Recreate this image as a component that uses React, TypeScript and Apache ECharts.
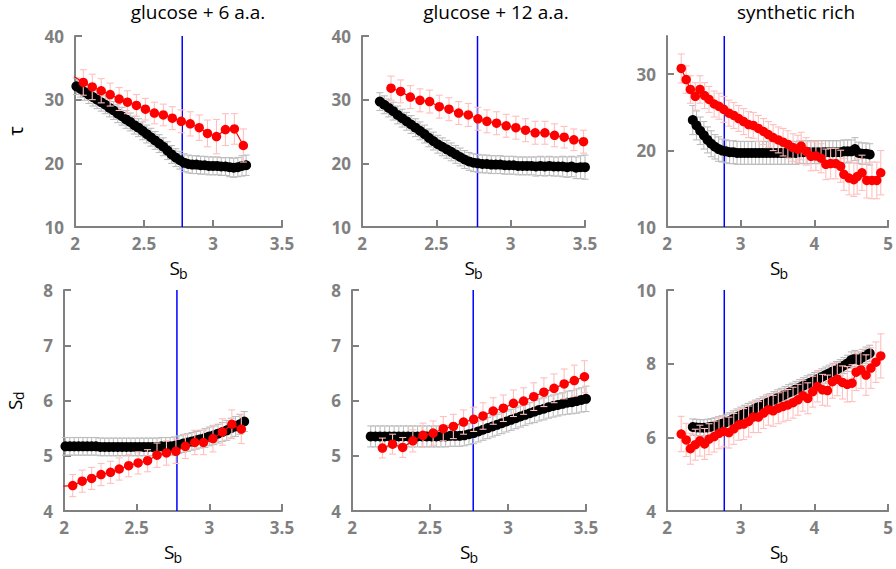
import React, { useEffect, useRef } from "react";
import * as echarts from "echarts";

// ---------- tick labels ----------
const sbTicks = [2, 2.5, 3, 3.5];
const sbTicksWide = [2, 3, 4, 5];
const tauTicks = [10, 20, 30, 40];
const tauTicksRich = [10, 20, 30];
const sdTicks = [4, 5, 6, 7, 8];
const sdTicksRich = [4, 6, 8, 10];
const titles = ["glucose + 6 a.a.", "glucose + 12 a.a.", "synthetic rich"];
const switchSb = 2.777;

// ---------- glucose + 6 a.a. ----------
const g6BlackX = [2.01,2.04,2.07,2.10,2.13,2.16,2.19,2.22,2.25,2.28,2.31,2.34,2.37,2.40,2.43,2.46,2.49,2.52,2.55,2.58,2.61,2.64,2.67,2.70,2.73,2.76,2.79,2.82,2.85,2.88,2.91,2.94,2.97,3.00,3.03,3.06,3.09,3.12,3.15,3.18,3.21,3.24];
const g6RedX = [1.995,2.06,2.125,2.19,2.255,2.32,2.38,2.445,2.51,2.575,2.64,2.705,2.77,2.835,2.9,2.96,3.025,3.09,3.155,3.22];
const g6TauBlack = [32.1,31.7,31.2,30.8,30.4,30.0,29.6,29.2,28.7,28.3,27.8,27.4,26.9,26.5,26.0,25.6,25.1,24.6,24.1,23.6,23.1,22.6,22.0,21.4,20.9,20.5,20.1,19.9,19.8,19.8,19.7,19.7,19.6,19.6,19.6,19.5,19.5,19.4,19.3,19.4,19.6,19.7];
const g6TauBlackErr = [1.3,1.3,1.3,1.4,1.4,1.4,1.4,1.4,1.4,1.4,1.4,1.4,1.4,1.4,1.4,1.4,1.4,1.4,1.4,1.4,1.4,1.4,1.4,1.4,1.4,1.4,1.4,1.4,1.4,1.4,1.4,1.4,1.4,1.4,1.4,1.4,1.4,1.5,1.5,1.5,1.6,1.6];
const g6TauRed = [33.6,32.7,32.0,31.4,30.8,30.1,29.6,29.1,28.5,27.9,27.6,27.1,26.6,26.2,25.6,24.7,24.2,25.3,25.4,22.8];
const g6TauRedErr = [2.0,2.0,2.0,1.9,1.8,1.8,1.8,1.7,1.7,1.7,1.7,1.8,1.8,1.9,2.0,2.1,2.7,2.5,2.4,2.6];
const g6SdBlack = [5.17,5.17,5.17,5.17,5.17,5.17,5.17,5.17,5.16,5.16,5.16,5.16,5.16,5.16,5.16,5.16,5.16,5.16,5.16,5.16,5.16,5.16,5.17,5.17,5.17,5.18,5.20,5.22,5.24,5.26,5.28,5.30,5.32,5.35,5.37,5.40,5.43,5.46,5.50,5.53,5.57,5.62];
const g6SdBlackErr = [0.16,0.16,0.16,0.16,0.16,0.16,0.16,0.16,0.16,0.16,0.16,0.16,0.16,0.16,0.16,0.16,0.16,0.16,0.16,0.16,0.16,0.16,0.16,0.16,0.16,0.16,0.16,0.16,0.16,0.16,0.16,0.16,0.17,0.17,0.17,0.17,0.17,0.18,0.18,0.18,0.18,0.18];
const g6SdRed = [4.45,4.46,4.54,4.59,4.66,4.70,4.76,4.82,4.87,4.91,5.01,5.05,5.08,5.17,5.24,5.24,5.31,5.43,5.57,5.48];
const g6SdRedErr = [0.2,0.2,0.2,0.2,0.2,0.2,0.2,0.2,0.2,0.2,0.22,0.22,0.22,0.22,0.22,0.22,0.24,0.24,0.26,0.26];

// ---------- glucose + 12 a.a. ----------
const g12BlackX = [2.12,2.15,2.18,2.21,2.24,2.27,2.30,2.33,2.36,2.39,2.42,2.45,2.48,2.51,2.54,2.57,2.60,2.63,2.66,2.69,2.72,2.75,2.78,2.81,2.84,2.87,2.90,2.93,2.96,2.99,3.02,3.05,3.08,3.11,3.14,3.17,3.20,3.23,3.26,3.29,3.32,3.35,3.38,3.41,3.44,3.47,3.50];
const g12RedX = [2.195,2.26,2.325,2.39,2.455,2.52,2.585,2.65,2.715,2.78,2.84,2.905,2.97,3.035,3.10,3.165,3.23,3.295,3.36,3.425,3.49];
const g12TauBlack = [29.7,29.2,28.7,28.2,27.6,27.1,26.6,26.1,25.6,25.1,24.6,24.0,23.5,23.0,22.6,22.2,21.8,21.4,21.0,20.6,20.3,20.1,20.0,19.9,19.9,19.8,19.8,19.8,19.7,19.7,19.7,19.6,19.6,19.6,19.6,19.5,19.6,19.5,19.6,19.5,19.5,19.5,19.4,19.5,19.3,19.4,19.4];
const g12TauBlackErr = [1.4,1.4,1.4,1.4,1.4,1.4,1.4,1.4,1.4,1.4,1.4,1.4,1.4,1.4,1.4,1.4,1.4,1.4,1.4,1.4,1.4,1.4,1.4,1.4,1.4,1.4,1.4,1.4,1.4,1.4,1.4,1.4,1.4,1.4,1.4,1.5,1.5,1.5,1.5,1.5,1.5,1.6,1.6,1.6,1.7,1.8,1.9];
const g12TauRed = [31.8,31.3,30.4,29.9,29.7,28.9,28.5,27.9,27.6,27.0,26.6,26.3,25.9,25.6,25.2,24.8,24.8,24.4,24.1,23.7,23.4];
const g12TauRedErr = [1.9,1.8,1.8,1.8,1.8,1.8,1.8,1.8,1.8,1.8,1.8,1.8,1.8,1.8,1.8,1.8,1.8,1.8,1.7,1.7,1.8];
const g12SdBlack = [5.35,5.35,5.35,5.35,5.35,5.35,5.35,5.35,5.35,5.35,5.35,5.35,5.35,5.35,5.35,5.35,5.35,5.36,5.36,5.36,5.37,5.39,5.41,5.44,5.47,5.50,5.53,5.56,5.59,5.62,5.65,5.68,5.71,5.74,5.77,5.80,5.83,5.85,5.88,5.90,5.92,5.94,5.96,5.97,5.99,6.01,6.03];
const g12SdBlackErr = [0.19,0.19,0.19,0.19,0.19,0.19,0.19,0.19,0.19,0.19,0.19,0.19,0.19,0.19,0.19,0.19,0.19,0.19,0.19,0.19,0.19,0.19,0.19,0.19,0.19,0.19,0.19,0.19,0.19,0.19,0.19,0.19,0.19,0.19,0.19,0.2,0.2,0.2,0.2,0.2,0.2,0.2,0.21,0.21,0.22,0.22,0.23];
const g12SdRed = [5.14,5.21,5.15,5.27,5.37,5.41,5.49,5.53,5.61,5.66,5.72,5.81,5.86,5.95,5.99,6.07,6.15,6.22,6.30,6.36,6.43];
const g12SdRedErr = [0.18,0.18,0.18,0.2,0.22,0.22,0.22,0.22,0.22,0.22,0.24,0.24,0.24,0.24,0.24,0.25,0.26,0.26,0.27,0.28,0.29];

// ---------- synthetic rich ----------
const synBlackX = [2.35,2.40,2.45,2.50,2.55,2.60,2.65,2.70,2.75,2.80,2.85,2.90,2.95,3.00,3.05,3.10,3.15,3.20,3.25,3.30,3.35,3.40,3.45,3.50,3.55,3.60,3.65,3.70,3.75,3.80,3.85,3.90,3.95,4.00,4.05,4.10,4.15,4.20,4.25,4.30,4.35,4.40,4.45,4.50,4.55,4.60,4.65,4.70,4.75];
const synTauBlack = [24.0,23.3,22.6,22.0,21.4,20.9,20.5,20.2,20.0,19.9,19.8,19.8,19.7,19.7,19.7,19.7,19.7,19.7,19.7,19.7,19.7,19.7,19.7,19.7,19.7,19.7,19.7,19.7,19.7,19.8,19.8,19.8,19.8,19.8,19.8,19.8,19.8,19.8,19.8,19.8,19.8,19.9,19.9,19.9,20.2,19.7,19.6,19.6,19.5];
const synTauBlackErr = [1.9,1.9,1.8,1.8,1.7,1.7,1.6,1.6,1.5,1.5,1.5,1.5,1.5,1.5,1.5,1.5,1.5,1.5,1.5,1.5,1.5,1.5,1.5,1.5,1.5,1.5,1.5,1.5,1.5,1.5,1.5,1.5,1.5,1.5,1.5,1.5,1.5,1.5,1.5,1.5,1.5,1.5,1.5,1.5,1.5,1.4,1.4,1.4,1.4];
const synTauRedX = [2.193,2.26,2.317,2.384,2.447,2.51,2.57,2.64,2.705,2.77,2.84,2.906,2.973,3.04,3.107,3.17,3.24,3.31,3.375,3.44,3.51,3.575,3.64,3.71,3.776,3.82,3.887,3.954,4.02,4.09,4.155,4.22,4.29,4.356,4.4,4.47,4.535,4.58,4.645,4.71,4.78,4.846,4.9];
const synTauRed = [30.75,29.3,28.0,27.1,28.0,27.2,26.7,26.1,25.8,25.4,24.9,24.6,24.2,23.8,23.4,23.3,22.9,22.5,22.1,21.7,21.4,21.1,20.8,20.4,20.2,20.6,19.9,19.25,19.3,19.0,18.2,18.3,18.3,17.95,16.9,16.4,16.2,16.6,17.1,16.1,16.1,16.1,17.1];
const synTauRedErr = [1.9,1.8,1.8,1.8,1.8,1.7,1.7,1.7,1.7,1.7,1.7,1.7,1.7,1.7,1.7,1.7,1.7,1.7,1.7,1.7,1.7,1.8,1.8,1.8,1.8,1.8,1.8,1.9,1.9,1.9,2.0,2.0,2.0,2.1,2.1,2.2,2.2,2.3,2.3,2.3,2.4,2.4,2.9];
const synSdBlack = [6.28,6.27,6.26,6.26,6.27,6.29,6.31,6.34,6.37,6.41,6.45,6.50,6.55,6.60,6.65,6.70,6.74,6.79,6.83,6.88,6.93,6.97,7.02,7.07,7.11,7.16,7.21,7.25,7.30,7.35,7.40,7.45,7.49,7.54,7.59,7.64,7.69,7.74,7.79,7.84,7.89,7.95,8.01,8.10,8.14,8.10,8.17,8.23,8.28];
const synSdBlackErr = [0.22,0.22,0.22,0.22,0.22,0.22,0.22,0.22,0.22,0.22,0.22,0.22,0.22,0.22,0.22,0.22,0.22,0.22,0.22,0.22,0.22,0.22,0.22,0.22,0.22,0.22,0.22,0.22,0.22,0.22,0.22,0.22,0.22,0.22,0.22,0.22,0.22,0.22,0.22,0.22,0.22,0.22,0.22,0.22,0.22,0.22,0.22,0.22,0.22];
const synSdRedX = [2.193,2.26,2.317,2.384,2.447,2.51,2.57,2.64,2.705,2.77,2.84,2.906,2.973,3.04,3.107,3.17,3.24,3.31,3.375,3.44,3.51,3.575,3.64,3.71,3.776,3.843,3.91,3.977,4.04,4.11,4.177,4.244,4.31,4.38,4.446,4.51,4.566,4.63,4.70,4.766,4.834,4.90];
const synSdRed = [6.09,5.93,5.69,5.80,5.91,5.82,5.95,6.02,6.11,6.16,6.13,6.23,6.34,6.36,6.43,6.55,6.55,6.66,6.75,6.72,6.79,6.84,6.88,6.94,7.02,7.13,7.06,7.24,7.38,7.29,7.27,7.51,7.58,7.49,7.44,7.47,7.77,7.83,7.69,7.88,8.04,8.21];
const synSdRedErr = [0.48,0.45,0.42,0.42,0.42,0.42,0.42,0.42,0.42,0.42,0.42,0.42,0.42,0.42,0.42,0.42,0.42,0.42,0.42,0.42,0.42,0.42,0.42,0.42,0.42,0.42,0.42,0.42,0.42,0.42,0.42,0.45,0.45,0.45,0.48,0.5,0.5,0.5,0.55,0.55,0.55,0.6];

// ---------- layout / style ----------
const GREY = "#808080";
const ERR_GREY = "#bdbdbd";
const ERR_PINK = "#ffbfbf";
const FONT = "'Open Sans', 'Noto Sans', sans-serif";

const grids = [
  { left: 75, top: 36, width: 207, height: 191 },
  { left: 362, top: 36, width: 223, height: 191 },
  { left: 667, top: 36, width: 224, height: 191 },
  { left: 64, top: 290, width: 218, height: 221 },
  { left: 352, top: 290, width: 234, height: 221 },
  { left: 667, top: 290, width: 224, height: 221 },
];

const panels = [
  { bx: g6BlackX, by: g6TauBlack, be: g6TauBlackErr, rx: g6RedX, ry: g6TauRed, re: g6TauRedErr, xr: [2, 3.5], yr: [10, 40], xt: sbTicks, yt: tauTicks },
  { bx: g12BlackX, by: g12TauBlack, be: g12TauBlackErr, rx: g12RedX, ry: g12TauRed, re: g12TauRedErr, xr: [2, 3.5], yr: [10, 40], xt: sbTicks, yt: tauTicks },
  { bx: synBlackX, by: synTauBlack, be: synTauBlackErr, rx: synTauRedX, ry: synTauRed, re: synTauRedErr, xr: [2, 5], yr: [10, 35], xt: sbTicksWide, yt: tauTicksRich },
  { bx: g6BlackX, by: g6SdBlack, be: g6SdBlackErr, rx: g6RedX, ry: g6SdRed, re: g6SdRedErr, xr: [2, 3.5], yr: [4, 8], xt: sbTicks, yt: sdTicks },
  { bx: g12BlackX, by: g12SdBlack, be: g12SdBlackErr, rx: g12RedX, ry: g12SdRed, re: g12SdRedErr, xr: [2, 3.5], yr: [4, 8], xt: sbTicks, yt: sdTicks },
  { bx: synBlackX, by: synSdBlack, be: synSdBlackErr, rx: synSdRedX, ry: synSdRed, re: synSdRedErr, xr: [2, 5], yr: [4, 10], xt: sbTicksWide, yt: sdTicksRich },
];

function errSeries(i: number, xs: number[], ys: number[], es: number[], xr: number[], color: string, z: number) {
  const data: number[][] = [];
  xs.forEach((x, k) => {
    if (x >= xr[0] && x <= xr[1]) data.push([x, ys[k] - es[k], ys[k] + es[k]]);
  });
  return {
    type: "custom",
    xAxisIndex: i,
    yAxisIndex: i,
    silent: true,
    z,
    encode: { x: 0, y: [1, 2] },
    data,
    renderItem: (_params: any, api: any) => {
      const x = api.value(0);
      const p1 = api.coord([x, api.value(1)]);
      const p2 = api.coord([x, api.value(2)]);
      const h = 3.5;
      const st = { stroke: color, lineWidth: 1.1 };
      return {
        type: "group",
        children: [
          { type: "line", shape: { x1: p1[0], y1: p1[1], x2: p2[0], y2: p2[1] }, style: st },
          { type: "line", shape: { x1: p1[0] - h, y1: p1[1], x2: p1[0] + h, y2: p1[1] }, style: st },
          { type: "line", shape: { x1: p2[0] - h, y1: p2[1], x2: p2[0] + h, y2: p2[1] }, style: st },
        ],
      };
    },
  };
}

function sbLabel(cx: number, y: number) {
  return [
    { type: "text", x: cx - 9, y, style: { text: "S", font: `19px ${FONT}`, fill: "#000", align: "left", verticalAlign: "middle", textAlign: "left", textVerticalAlign: "middle" } },
    { type: "text", x: cx + 0.5, y: y + 5.5, style: { text: "b", font: `14px ${FONT}`, fill: "#000", align: "left", verticalAlign: "middle", textAlign: "left", textVerticalAlign: "middle" } },
  ];
}

export default function App() {
  const ref = useRef<HTMLDivElement>(null);
  useEffect(() => {
    if (!ref.current) return;
    const chart = echarts.init(ref.current, undefined, { renderer: "svg" });
    const labelStyle = { color: GREY, fontFamily: FONT, fontWeight: "bold", fontSize: 17 };
    const series: any[] = [];
    panels.forEach((p, i) => {
      series.push({
        type: "line", xAxisIndex: i, yAxisIndex: i, silent: true, z: 1, symbol: "none",
        data: [[switchSb, p.yr[0]], [switchSb, p.yr[1]]],
        lineStyle: { color: "#0000ff", width: 1.5 },
      });
      series.push(errSeries(i, p.bx, p.by, p.be, p.xr, ERR_GREY, 2));
      series.push({
        type: "line", xAxisIndex: i, yAxisIndex: i, silent: true, z: 3,
        symbol: "circle", symbolSize: 10, showSymbol: true, clip: true,
        itemStyle: { color: "#000" }, lineStyle: { color: "#000", width: 1 },
        data: p.bx.map((x, k) => [x, p.by[k]]),
      });
      series.push(errSeries(i, p.rx, p.ry, p.re, p.xr, ERR_PINK, 4));
      series.push({
        type: "line", xAxisIndex: i, yAxisIndex: i, silent: true, z: 5,
        symbol: "circle", symbolSize: 9.5, showSymbol: true, clip: true,
        itemStyle: { color: "#ff0000" }, lineStyle: { color: "#ff0000", width: 1.2 },
        data: p.rx.map((x, k) => [x, p.ry[k]]),
      });
    });

    const graphic: any[] = [];
    const titleX = [198, 496, 796];
    titles.forEach((t, k) => {
      graphic.push({ type: "text", x: titleX[k], y: 2, style: { text: t, font: `19px ${FONT}`, lineHeight: 20, fill: "#000", align: "center", verticalAlign: "top", textAlign: "center", textVerticalAlign: "top" } });
    });
    grids.forEach((g, i) => {
      const cx = g.left + g.width / 2;
      graphic.push(...sbLabel(cx, i < 3 ? 268 : 552));
    });
    graphic.push({ type: "text", x: 15, y: 131, rotation: Math.PI / 2, style: { text: "τ", font: `20px ${FONT}`, fill: "#000", align: "center", verticalAlign: "middle", textAlign: "center", textVerticalAlign: "middle" } });
    graphic.push({
      type: "group", x: 14.5, y: 410, rotation: Math.PI / 2,
      children: [
        { type: "text", x: 0, y: 0, style: { text: "S", font: `19px ${FONT}`, fill: "#000", align: "left", verticalAlign: "middle", textAlign: "left", textVerticalAlign: "middle" } },
        { type: "text", x: 10, y: 4, style: { text: "d", font: `14px ${FONT}`, fill: "#000", align: "left", verticalAlign: "middle", textAlign: "left", textVerticalAlign: "middle" } },
      ],
    });

    chart.setOption({
      animation: false,
      backgroundColor: "#fff",
      grid: grids.map((g) => ({ ...g })),
      xAxis: panels.map((p, i) => ({
        type: "value", gridIndex: i, min: p.xr[0], max: p.xr[1],
        axisLine: { show: true, onZero: false, lineStyle: { color: GREY, width: 2 } },
        axisTick: { show: true, inside: true, length: 7, customValues: p.xt, lineStyle: { color: GREY, width: 2 } },
        axisLabel: { ...labelStyle, customValues: p.xt, margin: 8 },
        splitLine: { show: false },
      })),
      yAxis: panels.map((p, i) => ({
        type: "value", gridIndex: i, min: p.yr[0], max: p.yr[1],
        axisLine: { show: true, onZero: false, lineStyle: { color: GREY, width: 2 } },
        axisTick: { show: true, inside: true, length: 7, customValues: p.yt, lineStyle: { color: GREY, width: 2 } },
        axisLabel: { ...labelStyle, customValues: p.yt, margin: 11 },
        splitLine: { show: false },
      })),
      series,
      graphic,
    });
    return () => chart.dispose();
  }, []);
  return <div ref={ref} style={{ position: "fixed", left: 0, top: 0, width: 896, height: 569 }} />;
}
